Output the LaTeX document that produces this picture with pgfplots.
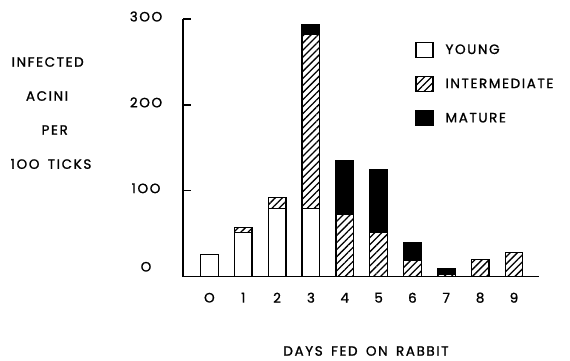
\documentclass[border=0pt]{standalone}
\usepackage{fontspec}
\setmainfont{Poppins}[LetterSpace=12, FakeBold=1.2, WordSpace=1.6]
\usepackage{pgfplots}
\usepackage{pgfplotstable}
\pgfplotsset{compat=1.18}
\usetikzlibrary{patterns.meta}
\newcommand\lf{\fontsize{13.5}{16}\selectfont}
\pgfplotstableread{
day young inter mature
0 26 0 0
1 51 6 0
2 79 13 0
3 79 203 11
4 0 73 62
5 0 52 73
6 0 19 21
7 0 3 6
8 0 20 0
9 0 28 0
}\data
\begin{document}
\begin{tikzpicture}
\path[use as bounding box] (0,0) rectangle (570pt,360pt);
\begin{axis}[
  at={(183pt,83.3pt)}, anchor=south west,
  scale only axis, width=356pt, height=257.7pt,
  xmin=-0.78, xmax=9.74, ymin=0, ymax=300,
  ybar stacked, bar width=17.7pt,
  legend image code/.code={\draw[#1] (0pt,-7.5pt) rectangle (17pt,7.5pt);},
  axis x line*=bottom, axis y line*=left,
  axis line style={line width=1.2pt, black},
  xtick={0,...,9}, xticklabels={O,1,2,3,4,5,6,7,8,9},
  xtick style={draw=none},
  ytick={0,100,200,300},
  yticklabels={\raisebox{15pt}{O},1OO,2OO,3OO},
  ytick style={line width=1.2pt, black},
  tick align=inside, major tick length=8pt,
  font=\lf,
  xticklabel style={anchor=center, yshift=-21pt},
  yticklabel style={anchor=center, xshift=-37pt, yshift=2.5pt},
  legend style={at={(0.652,0.912)}, anchor=north west, draw=none, fill=none,
    inner sep=0pt, row sep=18pt, column sep=12pt, font=\lf,
    nodes={inner sep=0pt}},
  legend cell align=left,
]
\addplot[draw=black, line width=1.2pt, fill=white]
  table[x=day, y=young] {\data};
\addplot[draw=black, line width=1.2pt,
  pattern={Lines[angle=45,distance=5pt,line width=1.3pt]}]
  table[x=day, y=inter] {\data};
\addplot[draw=black, line width=1.2pt, fill=black]
  table[x=day, y=mature] {\data};
\legend{YOUNG, INTERMEDIATE, MATURE}
\end{axis}
\node[font=\lf, inner sep=0pt] at (47.7pt,298pt) {INFECTED};
\node[font=\lf, inner sep=0pt] at (47pt,264pt) {ACINI};
\node[font=\lf, inner sep=0pt] at (54.7pt,230pt) {PER};
\node[font=\lf, inner sep=0pt] at (51pt,196pt) {1OO TICKS};
\node[font=\lf, inner sep=0pt] at (366pt,9pt) {DAYS FED ON RABBIT};
\end{tikzpicture}
\end{document}
